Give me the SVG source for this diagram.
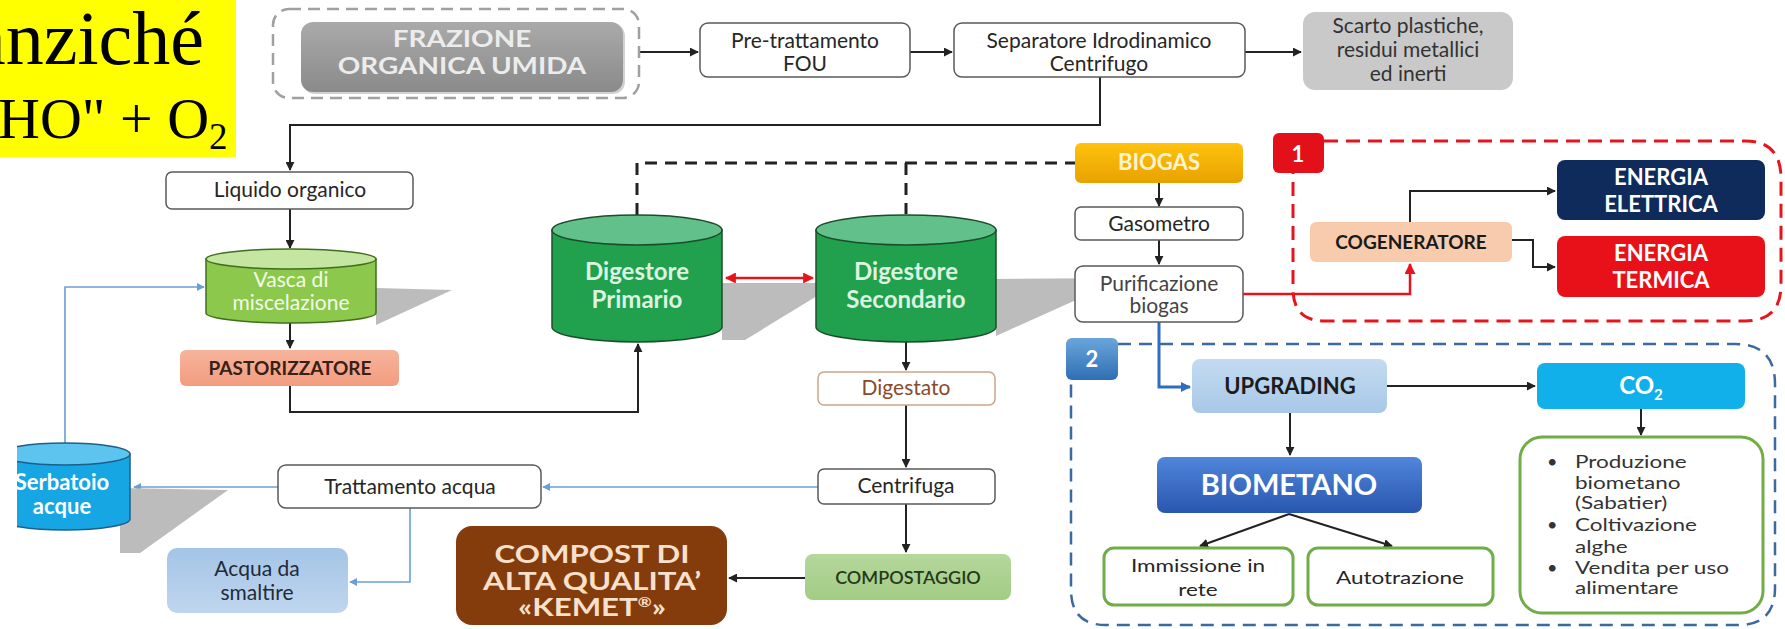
<svg xmlns="http://www.w3.org/2000/svg" width="1785" height="629" viewBox="0 0 1785 629">
<defs>
<style>
.t{font-family:Lato,"Open Sans","Liberation Sans",sans-serif;font-size:21px;fill:#262626;text-anchor:middle}
.b{font-weight:bold}
.box{fill:#fff;stroke:#595959;stroke-width:1.5}
.gbox{fill:#fff;stroke:#70ad47;stroke-width:3}
.c{fill:none;stroke:#222;stroke-width:2}
.cr{fill:none;stroke:#e8141b;stroke-width:2.5}
.cb{fill:none;stroke:#2f6dc0;stroke-width:3}
.cl{fill:none;stroke:#6a9fd4;stroke-width:1.6}
.dash{fill:none;stroke:#222;stroke-width:3;stroke-dasharray:12 8}
.shadow{fill:#bcbcbc}
.li{font-family:Lato,"Open Sans","Liberation Sans",sans-serif;font-size:18px;fill:#333}
</style>
<marker id="ak" viewBox="0 0 10 10" refX="9" refY="5" markerWidth="9" markerHeight="9" markerUnits="userSpaceOnUse" orient="auto"><path d="M0,0 L10,5 L0,10 z" fill="#222"/></marker>
<marker id="ar" viewBox="0 0 10 10" refX="9" refY="5" markerWidth="11" markerHeight="11" markerUnits="userSpaceOnUse" orient="auto-start-reverse"><path d="M0,0 L10,5 L0,10 z" fill="#e8141b"/></marker>
<marker id="ab" viewBox="0 0 10 10" refX="9" refY="5" markerWidth="10" markerHeight="10" markerUnits="userSpaceOnUse" orient="auto"><path d="M0,0 L10,5 L0,10 z" fill="#2f6dc0"/></marker>
<marker id="al" viewBox="0 0 10 10" refX="9" refY="5" markerWidth="8" markerHeight="8" markerUnits="userSpaceOnUse" orient="auto"><path d="M0,0 L10,5 L0,10 z" fill="#6a9fd4"/></marker>
<linearGradient id="gGray" x1="0" y1="0" x2="0" y2="1"><stop offset="0" stop-color="#aaaaaa"/><stop offset="1" stop-color="#8a8a8a"/></linearGradient>
<linearGradient id="gGold" x1="0" y1="0" x2="0" y2="1"><stop offset="0" stop-color="#ffc20e"/><stop offset="1" stop-color="#e8a200"/></linearGradient>
<linearGradient id="gBlue" x1="0" y1="0" x2="0" y2="1"><stop offset="0" stop-color="#4f86dc"/><stop offset="1" stop-color="#2a56ae"/></linearGradient>
<linearGradient id="gBadge2" x1="0" y1="0" x2="0" y2="1"><stop offset="0" stop-color="#6aa6dc"/><stop offset="1" stop-color="#2e6fb4"/></linearGradient>
<linearGradient id="gUpg" x1="0" y1="0" x2="0" y2="1"><stop offset="0" stop-color="#c3dbf0"/><stop offset="1" stop-color="#a8c8e8"/></linearGradient>
<linearGradient id="gAcq" x1="0" y1="0" x2="0" y2="1"><stop offset="0" stop-color="#a4c4e6"/><stop offset="1" stop-color="#c0d6ee"/></linearGradient>
<linearGradient id="gPast" x1="0" y1="0" x2="0" y2="1"><stop offset="0" stop-color="#f6b49b"/><stop offset="1" stop-color="#f29c80"/></linearGradient>
<linearGradient id="gComp" x1="0" y1="0" x2="0" y2="1"><stop offset="0" stop-color="#b5d79b"/><stop offset="1" stop-color="#a2cc85"/></linearGradient>
<clipPath id="clipS"><rect x="17" y="430" width="200" height="120"/></clipPath>
</defs>

<rect x="0" y="0" width="1785" height="629" fill="#ffffff"/>

<g id="title">
<rect x="0" y="0" width="236" height="157" fill="#ffff00"/>
<text x="-28" y="64" font-family="'Liberation Serif',serif" font-size="76" fill="#000">anziché</text>
<text x="-2" y="138" font-family="'Liberation Serif',serif" font-size="58" fill="#000">HO&quot; + O<tspan font-size="37" dy="11">2</tspan></text>
</g>

<g id="connectors">
<path class="c" d="M639,52 H698" marker-end="url(#ak)"/>
<path class="c" d="M910,52 H952" marker-end="url(#ak)"/>
<path class="c" d="M1245,52 H1301" marker-end="url(#ak)"/>
<path class="c" d="M1100,77 V125 H290 V170" marker-end="url(#ak)"/>
<path class="c" d="M290,209 V248" marker-end="url(#ak)"/>
<path class="c" d="M290,323 V348" marker-end="url(#ak)"/>
<path class="c" d="M290,386 V412 H638 V344" marker-end="url(#ak)"/>
<path class="dash" d="M637,215 V163 H1075"/>
<path class="dash" d="M906,163 V214"/>
<path class="cr" d="M726,278 H813" stroke-width="3" marker-start="url(#ar)" marker-end="url(#ar)"/>
<path class="c" d="M1159,183 V206" marker-end="url(#ak)"/>
<path class="c" d="M1159,240 V264" marker-end="url(#ak)"/>
<path class="cr" d="M1243,294 H1410 V264" marker-end="url(#ar)"/>
<path class="cb" d="M1159,322 V387 H1190" marker-end="url(#ab)"/>
<path class="c" d="M1410,222 V191 H1555" marker-end="url(#ak)"/>
<path class="c" d="M1512,240 H1533 V267 H1555" marker-end="url(#ak)"/>
<path class="c" d="M1387,386 H1535" marker-end="url(#ak)"/>
<path class="c" d="M1641,409 V435" marker-end="url(#ak)"/>
<path class="c" d="M1290,413 V455" marker-end="url(#ak)"/>
<path class="c" d="M1289,514 L1200,546" marker-end="url(#ak)"/>
<path class="c" d="M1289,514 L1392,546" marker-end="url(#ak)"/>
<path class="c" d="M906,342 V370" marker-end="url(#ak)"/>
<path class="c" d="M906,405 V467" marker-end="url(#ak)"/>
<path class="c" d="M906,504 V552" marker-end="url(#ak)"/>
<path class="c" d="M805,578 H729" marker-end="url(#ak)"/>
<path class="cl" d="M818,487 H543" marker-end="url(#al)"/>
<path class="cl" d="M278,487 H134" marker-end="url(#al)"/>
<path class="cl" d="M410,508 V582 H350" marker-end="url(#al)"/>
<path class="cl" d="M65,443 V287 H204" marker-end="url(#al)"/>
</g>

<g id="frazione">
<rect x="273" y="9" width="366" height="89" rx="16" fill="none" stroke="#a0a0a0" stroke-width="2.5" stroke-dasharray="12 7"/>
<rect x="303" y="24" width="322" height="70" rx="12" fill="#7a7a7a" opacity="0.35"/>
<rect x="301" y="22" width="322" height="70" rx="12" fill="url(#gGray)"/>
<text class="t b" transform="matrix(1.27 0 0 1 462 47)" x="0" y="0" style="fill:#ececec;font-size:22px">FRAZIONE</text>
<text class="t b" transform="matrix(1.27 0 0 1 462 74)" x="0" y="0" style="fill:#ececec;font-size:22px">ORGANICA UMIDA</text>
</g>

<g id="pretrattamento">
<rect class="box" x="700" y="23" width="210" height="54" rx="8"/>
<text class="t" x="805" y="48">Pre-trattamento</text>
<text class="t" x="805" y="71">FOU</text>
</g>

<g id="separatore">
<rect class="box" x="954" y="23" width="291" height="54" rx="8"/>
<text class="t" x="1099" y="48">Separatore Idrodinamico</text>
<text class="t" x="1099" y="71">Centrifugo</text>
</g>

<g id="scarto">
<rect x="1303" y="12" width="210" height="78" rx="12" fill="#c9c9c9"/>
<text class="t" x="1408" y="33" style="fill:#333">Scarto plastiche,</text>
<text class="t" x="1408" y="57" style="fill:#333">residui metallici</text>
<text class="t" x="1408" y="81" style="fill:#333">ed inerti</text>
</g>

<g id="liquido">
<rect class="box" x="166" y="172" width="247" height="37" rx="6"/>
<text class="t" x="290" y="197">Liquido organico</text>
</g>

<g id="vasca">
<polygon class="shadow" points="376,288 452,290 376,325"/>
<path d="M206,259 V313 A85,10 0 0 0 376,313 V259 Z" fill="#8cc84b" stroke="#3f6e1c" stroke-width="1.5"/>
<ellipse cx="291" cy="259" rx="85" ry="10" fill="#c4e6a0" stroke="#3f6e1c" stroke-width="1.5"/>
<text class="t" x="291" y="287" style="fill:#f2fbe8">Vasca di</text>
<text class="t" x="291" y="310" style="fill:#f2fbe8">miscelazione</text>
</g>

<g id="pastorizzatore">
<rect x="180" y="350" width="219" height="36" rx="6" fill="url(#gPast)"/>
<text class="t b" x="290" y="375" style="fill:#3a2016;font-size:19px">PASTORIZZATORE</text>
</g>

<g id="digestore-primario">
<polygon class="shadow" points="722,283 817,283 817,296 745,340 722,340"/>
<path d="M552,230 V327 A85,15 0 0 0 722,327 V230 Z" fill="#21a04e" stroke="#1b4d2b" stroke-width="1.5"/>
<ellipse cx="637" cy="230" rx="85" ry="15" fill="#62c08a" stroke="#1b4d2b" stroke-width="1.5"/>
<text class="t b" x="637" y="280" style="fill:#dcf3e0;font-size:24px">Digestore</text>
<text class="t b" x="637" y="308" style="fill:#dcf3e0;font-size:24px">Primario</text>
</g>

<g id="digestore-secondario">
<polygon class="shadow" points="996,279 1125,278 996,336"/>
<path d="M816,230 V327 A90,15 0 0 0 996,327 V230 Z" fill="#21a04e" stroke="#1b4d2b" stroke-width="1.5"/>
<ellipse cx="906" cy="230" rx="90" ry="15" fill="#62c08a" stroke="#1b4d2b" stroke-width="1.5"/>
<text class="t b" x="906" y="280" style="fill:#dcf3e0;font-size:24px">Digestore</text>
<text class="t b" x="906" y="308" style="fill:#dcf3e0;font-size:24px">Secondario</text>
</g>

<g id="biogas">
<rect x="1075" y="143" width="168" height="40" rx="6" fill="url(#gGold)"/>
<text class="t b" x="1159" y="170" style="fill:#fff3cf;font-size:22px">BIOGAS</text>
</g>

<g id="gasometro">
<rect class="box" x="1075" y="207" width="168" height="33" rx="6"/>
<text class="t" x="1159" y="231">Gasometro</text>
</g>

<g id="purificazione">
<rect class="box" x="1075" y="266" width="168" height="56" rx="8"/>
<text class="t" x="1159" y="291" style="fill:#444">Purificazione</text>
<text class="t" x="1159" y="313" style="fill:#444">biogas</text>
</g>

<g id="gruppo1">
<path d="M1324,141 H1745 Q1781,141 1781,178 V285 Q1781,321 1745,321 H1325 Q1293,321 1293,289 V173" fill="none" stroke="#e8141b" stroke-width="3" stroke-dasharray="14 8"/>
<rect x="1273" y="133" width="51" height="40" rx="6" fill="#e3101a"/>
<text class="t b" x="1298" y="162" style="fill:#fff;font-size:22px">1</text>
</g>

<g id="cogeneratore">
<rect x="1310" y="222" width="202" height="40" rx="6" fill="#f8cbad"/>
<text class="t b" x="1411" y="249" style="fill:#1a1a1a;font-size:19px">COGENERATORE</text>
</g>

<g id="energia-elettrica">
<rect x="1557" y="160" width="208" height="60" rx="8" fill="#0f2b5b"/>
<text class="t b" x="1661" y="185" style="fill:#fff;font-size:22px">ENERGIA</text>
<text class="t b" x="1661" y="212" style="fill:#fff;font-size:22px">ELETTRICA</text>
</g>

<g id="energia-termica">
<rect x="1557" y="236" width="208" height="61" rx="8" fill="#e8111a"/>
<text class="t b" x="1661" y="261" style="fill:#fff;font-size:22px">ENERGIA</text>
<text class="t b" x="1661" y="288" style="fill:#fff;font-size:22px">TERMICA</text>
</g>

<g id="gruppo2">
<path d="M1118,344 H1735 Q1775,344 1775,384 V588 Q1775,625 1738,625 H1106 Q1071,625 1071,590 V380" fill="none" stroke="#3b6aa0" stroke-width="2.5" stroke-dasharray="13 8"/>
<rect x="1066" y="338" width="52" height="42" rx="6" fill="url(#gBadge2)"/>
<text class="t b" x="1092" y="367" style="fill:#fff;font-size:22px">2</text>
</g>

<g id="upgrading">
<rect x="1192" y="359" width="195" height="54" rx="8" fill="url(#gUpg)"/>
<text class="t b" x="1290" y="394" style="fill:#1c1c1c;font-size:22px">UPGRADING</text>
</g>

<g id="co2">
<rect x="1537" y="363" width="208" height="46" rx="8" fill="#12b0ea"/>
<text class="t b" x="1641" y="394" style="fill:#fff;font-size:24px">CO<tspan font-size="15" dy="6">2</tspan></text>
</g>

<g id="usi-co2">
<rect class="gbox" x="1520" y="437" width="243" height="176" rx="22"/>
<text class="li" x="1547" y="468">•</text>
<text class="li" transform="matrix(1.25 0 0 1 1575 468)">Produzione</text>
<text class="li" transform="matrix(1.25 0 0 1 1575 489)">biometano</text>
<text class="li" transform="matrix(1.25 0 0 1 1575 509)">(Sabatier)</text>
<text class="li" x="1547" y="531">•</text>
<text class="li" transform="matrix(1.25 0 0 1 1575 531)">Coltivazione</text>
<text class="li" transform="matrix(1.25 0 0 1 1575 553)">alghe</text>
<text class="li" x="1547" y="574">•</text>
<text class="li" transform="matrix(1.25 0 0 1 1575 574)">Vendita per uso</text>
<text class="li" transform="matrix(1.25 0 0 1 1575 594)">alimentare</text>
</g>

<g id="biometano">
<rect x="1157" y="457" width="265" height="56" rx="8" fill="url(#gBlue)"/>
<text class="t b" x="1289" y="495" style="fill:#fff;font-size:29px">BIOMETANO</text>
</g>

<g id="immissione">
<rect class="gbox" x="1104" y="548" width="189" height="57" rx="10"/>
<text class="t" transform="matrix(1.25 0 0 1 1198 572)" style="font-size:18px">Immissione in</text>
<text class="t" transform="matrix(1.25 0 0 1 1198 596)" style="font-size:18px">rete</text>
</g>

<g id="autotrazione">
<rect class="gbox" x="1308" y="548" width="185" height="57" rx="10"/>
<text class="t" transform="matrix(1.25 0 0 1 1400 584)" style="font-size:18px">Autotrazione</text>
</g>

<g id="digestato">
<rect x="818" y="372" width="177" height="33" rx="6" fill="#fff" stroke="#c9a58a" stroke-width="1.5"/>
<text class="t" x="906" y="395" style="fill:#8a4a2a">Digestato</text>
</g>

<g id="centrifuga">
<rect class="box" x="818" y="469" width="177" height="35" rx="6"/>
<text class="t" x="906" y="493">Centrifuga</text>
</g>

<g id="compostaggio">
<rect x="805" y="554" width="206" height="46" rx="8" fill="url(#gComp)"/>
<text class="t" x="908" y="584" style="fill:#263a1a;font-size:18px;font-weight:600">COMPOSTAGGIO</text>
</g>

<g id="compost">
<rect x="456" y="526" width="271" height="99" rx="16" fill="#843c0c"/>
<text class="t b" transform="matrix(1.3 0 0 1 592 563)" style="fill:#f8e0cc;font-size:24px">COMPOST DI</text>
<text class="t b" transform="matrix(1.3 0 0 1 592 590)" style="fill:#f8e0cc;font-size:24px">ALTA QUALITA’</text>
<text class="t b" transform="matrix(1.3 0 0 1 592 616)" style="fill:#f8e0cc;font-size:24px">«KEMET<tspan font-size="13" dy="-9">®</tspan><tspan dy="9">»</tspan></text>
</g>

<g id="trattamento">
<rect class="box" x="278" y="465" width="263" height="43" rx="8"/>
<text class="t" x="410" y="494">Trattamento acqua</text>
</g>

<g id="acqua">
<rect x="167" y="548" width="181" height="65" rx="10" fill="url(#gAcq)"/>
<text class="t" x="257" y="576" style="fill:#1f2a3a">Acqua da</text>
<text class="t" x="257" y="600" style="fill:#1f2a3a">smaltire</text>
</g>

<g id="serbatoio">
<polygon class="shadow" points="120,488 228,490 140,553 120,553"/>
<g clip-path="url(#clipS)">
<path d="M0,454 V519 A65,11 0 0 0 130,519 V454 Z" fill="#15a6e3" stroke="#1d5f8c" stroke-width="1.5"/>
<ellipse cx="65" cy="454" rx="65" ry="11" fill="#5cc4ee" stroke="#1d5f8c" stroke-width="1.5"/>
<text class="t b" x="62" y="490" style="fill:#fff;font-size:22px">Serbatoio</text>
<text class="t b" x="62" y="514" style="fill:#fff;font-size:22px">acque</text>
</g>
</g>
</svg>
